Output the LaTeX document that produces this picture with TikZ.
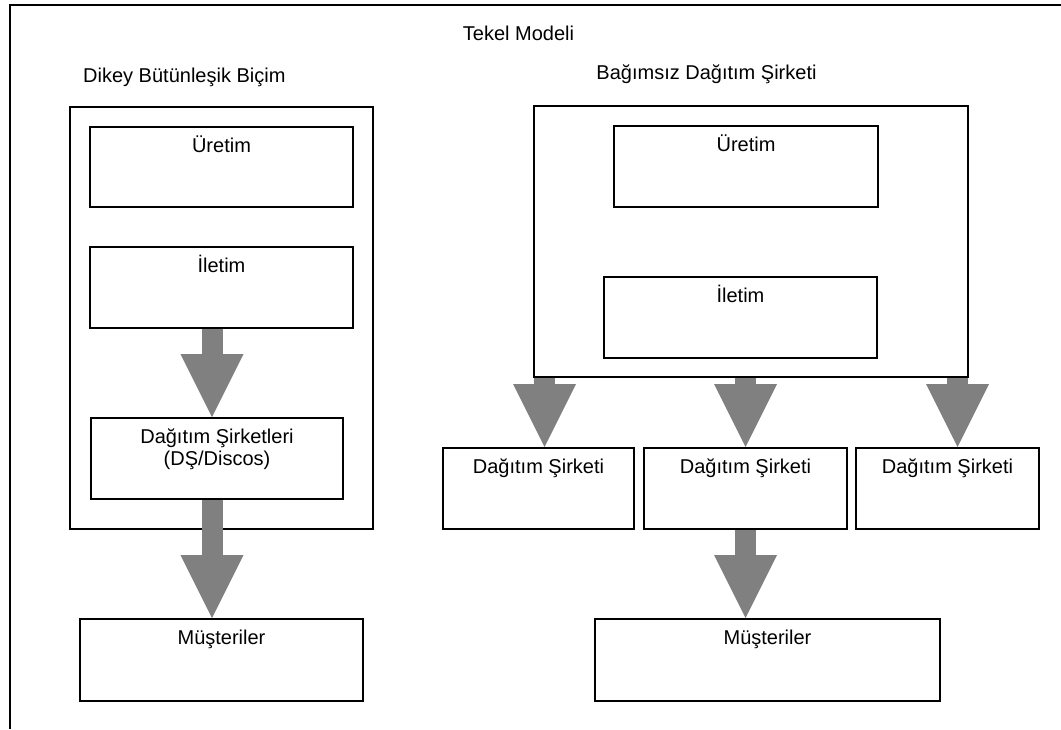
\documentclass[tikz,border=0pt]{standalone}
\usepackage{fontspec}
\setmainfont{Liberation Sans}
\usepackage{tikz}
\usetikzlibrary{arrows.meta,positioning}

\begin{document}
\begin{tikzpicture}[x=1pt, y=1pt, font=\fontsize{20pt}{22pt}\selectfont,
  frame/.style={draw, line width=2pt, inner sep=0pt},
  box/.style={frame, label={[anchor=base, align=center, label distance=-26pt]north:#1}},
  bigarrow/.style={draw=gray, line width=21pt, -{Triangle[width=63pt, length=63pt, line width=0pt]}}]
\useasboundingbox (0,0) rectangle (1061,-729);
\draw[line width=2pt] (1061,-5) -- (10,-5) -- (10,-729);
\node[anchor=base] (title) at (518.5,-40) {Tekel Modeli};
\node[anchor=base west, inner sep=0pt] (dikey) at (83,-82) {Dikey Bütünleşik Biçim};
\node[anchor=base] (bagimsiz) at (706.5,-79) {Bağımsız Dağıtım Şirketi};

\node[frame, minimum width=303pt, minimum height=422pt] (outerL) at (221.5,-318) {};
\node[box=Üretim, minimum width=263pt, minimum height=80pt] (uretimL) at (221.5,-167) {};
\node[box=İletim, minimum width=263pt, minimum height=81pt] (iletimL) at (221.5,-287.5) {};
\node[frame, label={[anchor=base, align=center, label distance=-48pt]north:Dağıtım Şirketleri\\(DŞ/Discos)},
  minimum width=252pt, minimum height=81pt] (dsL) at (217,-458.5) {};
\node[box=Müşteriler, minimum width=283pt, minimum height=82pt] (musL) at (221.5,-660) {};

\node[frame, minimum width=434pt, minimum height=271pt] (outerR) at (751,-241.5) {};
\node[box=Üretim, minimum width=264pt, minimum height=81pt] (uretimR) at (746,-166.5) {};
\node[box=İletim, minimum width=273pt, minimum height=81pt] (iletimR) at (740.5,-317.5) {};
\node[box=Dağıtım Şirketi, minimum width=191pt, minimum height=81pt] (ds1) at (538.5,-488.5) {};
\node[box=Dağıtım Şirketi, minimum width=203pt, minimum height=81pt] (ds2) at (745.5,-488.5) {};
\node[box=Dağıtım Şirketi, minimum width=183pt, minimum height=81pt] (ds3) at (947.5,-488.5) {};
\node[box=Müşteriler, minimum width=345pt, minimum height=82pt] (musR) at (767.5,-660) {};

\coordinate (colL) at (212,0);
\coordinate (col1) at (544.5,0);
\coordinate (col3) at (957.5,0);
\draw[bigarrow] (iletimL.south -| colL) -- (dsL.north -| colL);
\draw[bigarrow] (dsL.south -| colL) -- (musL.north -| colL);
\draw[bigarrow] (outerR.south -| col1) -- (ds1.north -| col1);
\draw[bigarrow] (outerR.south -| ds2.north) -- (ds2.north);
\draw[bigarrow] (outerR.south -| col3) -- (ds3.north -| col3);
\draw[bigarrow] (ds2.south) -- (musR.north -| ds2.south);
\end{tikzpicture}
\end{document}
